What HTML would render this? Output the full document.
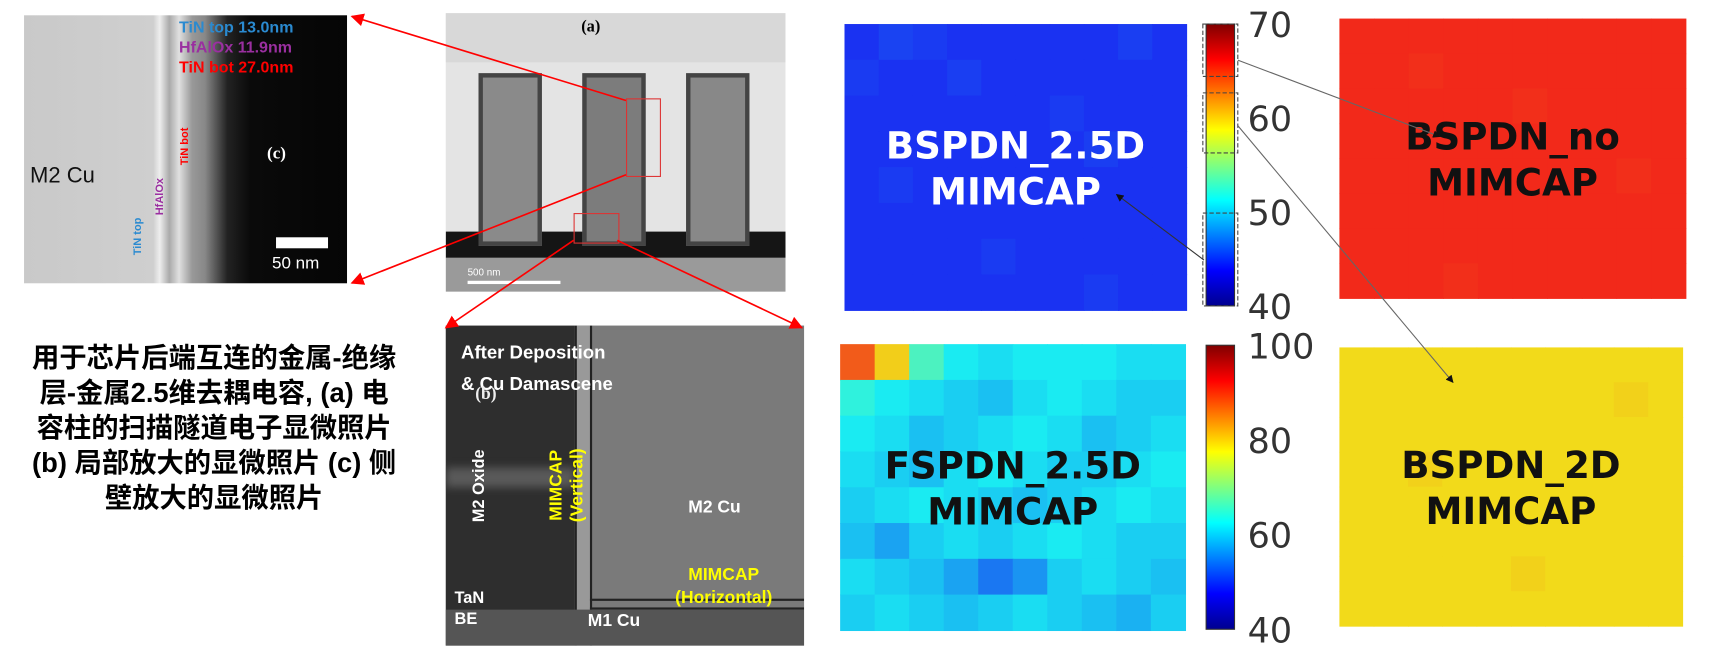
<!DOCTYPE html>
<html><head><meta charset="utf-8"><style>
body{margin:0;width:1713px;height:666px;background:#fff;position:relative;overflow:hidden;font-family:"Liberation Sans","Noto Sans CJK SC",sans-serif}
.abs{position:absolute}
#stage{position:absolute;left:0;top:0;width:1568px;height:610px;transform:scale(1.0925);transform-origin:0 0}
</style></head><body>
<div id="stage">
<!-- panel c -->
<div class="abs" style="left:22px;top:14px;width:323px;height:268px;transform:scale(0.9153);transform-origin:0 0;background:linear-gradient(90deg,#c9c9c9 0%,#cfcfcf 40%,#eee 42%,#aaa 45%,#e0e0e0 48%,#999 52%,#888 56%,#222 63%,#0a0a0a 70%,#050505 100%);overflow:hidden">
<div class="abs" style="left:6px;top:147px;font-size:22px;color:#111">M2 Cu</div>
<div class="abs" style="left:155px;top:3px;font-size:16px;font-weight:bold;line-height:20px"><span style="color:#2a8ad0">TiN top 13.0nm</span><br><span style="color:#9a2fa0">HfAlOx 11.9nm</span><br><span style="color:#f00">TiN bot 27.0nm</span></div>
<div class="abs" style="left:243px;top:128px;color:#fff;font-family:'Liberation Serif',serif;font-weight:bold;font-size:17px">(c)</div>
<div class="abs" style="left:252px;top:222px;width:52px;height:11px;background:#fff"></div>
<div class="abs" style="left:248px;top:238px;color:#fff;font-size:17px">50 nm</div>
<div class="abs" style="left:108px;top:240px;transform:rotate(-90deg);transform-origin:0 0;color:#2a8ad0;font-size:11px;font-weight:bold">TiN top</div>
<div class="abs" style="left:130px;top:200px;transform:rotate(-90deg);transform-origin:0 0;color:#9a2fa0;font-size:11px;font-weight:bold">HfAlOx</div>
<div class="abs" style="left:155px;top:150px;transform:rotate(-90deg);transform-origin:0 0;color:#f00;font-size:11px;font-weight:bold">TiN bot</div>
</div>
<!-- panel a -->
<div class="abs" style="left:408px;top:12px;width:311px;height:255px;background:#e4e4e4;overflow:hidden">
<div class="abs" style="left:0;top:0;width:311px;height:45px;background:#d8d8d8"></div>
<div class="abs" style="left:0;top:200px;width:311px;height:24px;background:#151515"></div>
<div class="abs" style="left:0;top:224px;width:311px;height:31px;background:#9a9a9a"></div>
<div class="abs" style="left:30px;top:55px;width:50px;height:150px;background:#8a8a8a;border:4px solid #444"></div>
<div class="abs" style="left:125px;top:55px;width:50px;height:150px;background:#7c7c7c;border:4px solid #444"></div>
<div class="abs" style="left:220px;top:55px;width:50px;height:150px;background:#888;border:4px solid #444"></div>
<div class="abs" style="left:124px;top:5px;font-family:'Liberation Serif',serif;font-weight:bold;font-size:15px">(a)</div>
<div class="abs" style="left:20px;top:232px;color:#fff;font-size:9px">500 nm</div>
<div class="abs" style="left:20px;top:245px;width:85px;height:3px;background:#fff"></div>
<div class="abs" style="left:165px;top:78px;width:30px;height:70px;border:1px solid #d33"></div>
<div class="abs" style="left:117px;top:183px;width:40px;height:26px;border:1px solid #d33"></div>
</div>
<!-- panel b -->
<div class="abs" style="left:408px;top:298px;width:328px;height:293px;background:#7a7a7a;overflow:hidden">
<div class="abs" style="left:0;top:0;width:118px;height:293px;background:#2e2e2e"></div>
<div class="abs" style="left:0;top:130px;width:118px;height:18px;background:#5a5a5a;filter:blur(4px)"></div>
<div class="abs" style="left:118px;top:0;width:12px;height:293px;background:#999;border-left:2px solid #222;border-right:2px solid #222"></div>
<div class="abs" style="left:132px;top:250px;width:196px;height:6px;border-top:2px solid #222;border-bottom:2px solid #222"></div>
<div class="abs" style="left:0;top:260px;width:328px;height:33px;background:#555"></div>
<div class="abs" style="left:14px;top:10px;color:#fff;font-weight:bold;font-size:17px;line-height:29px">After Deposition<br>&amp; Cu Damascene</div>
<div class="abs" style="left:27px;top:54px;color:#eee;font-family:'Liberation Serif',serif;font-weight:bold;font-size:16px">(b)</div>
<div class="abs" style="left:22px;top:180px;transform:rotate(-90deg);transform-origin:0 0;color:#fff;font-weight:bold;font-size:15px">M2 Oxide</div>
<div class="abs" style="left:92px;top:180px;transform:rotate(-90deg);transform-origin:0 0;color:#ff0;font-weight:bold;font-size:16px;line-height:19px;text-align:center">MIMCAP<br>(Vertical)</div>
<div class="abs" style="left:222px;top:158px;color:#fff;font-weight:bold;font-size:16px">M2 Cu</div>
<div class="abs" style="left:210px;top:218px;color:#ff0;font-weight:bold;font-size:16px;line-height:21px;text-align:center">MIMCAP<br>(Horizontal)</div>
<div class="abs" style="left:8px;top:240px;color:#fff;font-weight:bold;font-size:15px;line-height:19px">TaN<br>BE</div>
<div class="abs" style="left:130px;top:262px;color:#fff;font-weight:bold;font-size:16px">M1 Cu</div>
</div>
<!-- caption -->
<div class="abs" style="left:0px;top:312px;width:392px;font-size:25px;font-weight:bold;line-height:32px;text-align:center;color:#000;white-space:nowrap">用于芯片后端互连的金属-绝缘<br>层-金属2.5维去耦电容, (a) 电<br>容柱的扫描隧道电子显微照片<br>(b) 局部放大的显微照片 (c) 侧<br>壁放大的显微照片</div>

<svg class="abs" style="left:0;top:0" width="1568" height="610" id="chart">
<defs>
<linearGradient id="jet" x1="0" y1="1" x2="0" y2="0">
<stop offset="0" stop-color="#00008f"/><stop offset="0.125" stop-color="#0000ff"/><stop offset="0.375" stop-color="#00ffff"/><stop offset="0.625" stop-color="#ffff00"/><stop offset="0.875" stop-color="#ff0000"/><stop offset="1" stop-color="#800000"/>
</linearGradient>
<marker id="ar" viewBox="0 0 10 10" refX="9" refY="5" markerWidth="8" markerHeight="8" orient="auto"><path d="M0,0L10,5L0,10z" fill="#f00"/></marker>
<marker id="ak" viewBox="0 0 10 10" refX="9" refY="5" markerWidth="7" markerHeight="7" orient="auto"><path d="M0,0L10,5L0,10z" fill="#111"/></marker>
</defs>
<g id="maps"></g>
<g fill="none" stroke="#f00" stroke-width="1.5">
<line x1="573" y1="92" x2="322" y2="15" marker-end="url(#ar)"/>
<line x1="573" y1="160" x2="322" y2="259" marker-end="url(#ar)"/>
<line x1="525" y1="220" x2="408" y2="300" marker-end="url(#ar)"/>
<line x1="565" y1="220" x2="734" y2="300" marker-end="url(#ar)"/>
</g>
</svg>
</div>
<script>
function jet(t){t=Math.max(0,Math.min(1,t));
 const stops=[[0,[0,0,143]],[0.125,[0,0,255]],[0.375,[0,255,255]],[0.625,[255,255,0]],[0.875,[255,0,0]],[1,[128,0,0]]];
 let i=0;while(i<stops.length-2&&t>stops[i+1][0])i++;
 const a=stops[i],b=stops[i+1],f=(t-a[0])/(b[0]-a[0]);
 const c=a[1].map((v,k)=>v+(b[1][k]-v)*f);
 const m=c.map(v=>Math.round(v*0.85+255*0.1));
 return `rgb(${m[0]},${m[1]},${m[2]})`;}
const topTicks=[70,60,50,40];
const bottomTicks=[100,80,60,40];
const topRange=[40,70];
const bottomRange=[40,100];
const bspdn25d=[
[44.6,45.2,44.9,44.6,44.6,44.6,44.6,44.6,45.0,44.6],
[44.9,44.6,44.6,45.0,44.6,44.6,44.6,44.6,44.6,44.6],
[44.6,44.6,44.6,44.6,44.6,44.6,44.9,44.6,44.6,44.6],
[44.6,44.6,44.6,44.6,44.6,44.6,44.6,45.0,44.6,44.6],
[44.6,44.9,44.6,44.6,44.6,44.6,44.6,44.6,44.6,44.6],
[44.6,44.6,44.6,44.6,44.6,44.6,44.6,44.6,44.6,44.6],
[44.6,44.6,44.6,44.6,44.9,44.6,44.6,44.6,44.6,44.6],
[44.6,44.6,44.6,44.6,44.6,44.6,44.6,44.9,44.6,44.6]];
const bspdnNo=[
[65.7,65.7,65.7,65.7,65.7,65.7,65.7,65.7,65.7,65.7],
[65.7,65.7,65.5,65.7,65.7,65.7,65.7,65.7,65.7,65.7],
[65.7,65.7,65.7,65.7,65.7,65.5,65.7,65.7,65.7,65.7],
[65.7,65.7,65.7,65.7,65.7,65.7,65.7,65.7,65.7,65.7],
[65.7,65.7,65.7,65.7,65.7,65.7,65.7,65.7,65.5,65.7],
[65.7,65.7,65.7,65.7,65.7,65.7,65.7,65.7,65.7,65.7],
[65.7,65.7,65.7,65.7,65.7,65.7,65.7,65.7,65.7,65.7],
[65.7,65.7,65.7,65.5,65.7,65.7,65.7,65.7,65.7,65.7]];
const fspdn25d=[
[88,80,66,62,61,62,62,62,61,61],
[64,62,61,60,59,61,62,61,60,60],
[62,61,59,60,61,62,61,59,60,61],
[61,60,59,61,62,61,60,60,61,62],
[60,61,62,61,60,59,60,61,62,61],
[59,57,60,61,60,61,62,61,60,60],
[61,60,59,57,54,56,60,61,60,59],
[60,61,60,59,60,61,60,59,58,60]];
const bspdn2d=[
[59.6,59.6,59.6,59.6,59.6,59.6,59.6,59.6,59.6,59.6],
[59.6,59.6,59.6,59.6,59.6,59.6,59.6,59.6,59.9,59.6],
[59.6,59.6,59.6,59.6,59.6,59.6,59.6,59.6,59.6,59.6],
[59.6,59.6,59.9,59.6,59.6,59.6,59.6,59.6,59.6,59.6],
[59.6,59.6,59.6,59.6,59.6,59.6,59.6,59.6,59.6,59.6],
[59.6,59.6,59.6,59.6,59.6,59.6,59.6,59.6,59.6,59.6],
[59.6,59.6,59.6,59.6,59.6,59.9,59.6,59.6,59.6,59.6],
[59.6,59.6,59.6,59.6,59.6,59.6,59.6,59.6,59.6,59.6]];
const labels=[["BSPDN_2.5D","MIMCAP"],["BSPDN_no","MIMCAP"],["FSPDN_2.5D","MIMCAP"],["BSPDN_2D","MIMCAP"]];
const NS="http://www.w3.org/2000/svg";
const g=document.getElementById('maps');
function mk(tag,attrs,parent){const e=document.createElementNS(NS,tag);for(const k in attrs)e.setAttribute(k,attrs[k]);(parent||g).appendChild(e);return e;}
function drawMap(grid,x,y,w,h,range,name,lab,color){
 const rows=grid.length,cols=grid[0].length,cw=w/cols,ch=h/rows;
 const grp=mk('g',{});
 
 
 grid.forEach((row,i)=>row.forEach((v,j)=>{
  const r=mk('rect',{x:x+j*cw,y:y+i*ch,width:cw+0.6,height:ch+0.6,fill:jet((v-range[0])/(range[1]-range[0]))},grp);
  
  
 }));
 lab.forEach((t,k)=>{const tx=mk('text',{x:x+w/2,y:y+h/2-8+k*42,'text-anchor':'middle','font-size':34,'font-weight':'bold',fill:color,'font-family':'DejaVu Sans, Liberation Sans, sans-serif'},grp);tx.textContent=t;
  
  });
}
drawMap(bspdn25d,773,22,313,262,topRange,'heatmap-bspdn-2-5d',labels[0],'#fff');
drawMap(bspdnNo,1226,17,317,256,topRange,'heatmap-bspdn-no',labels[1],'#111');
drawMap(fspdn25d,769,315,316,262,bottomRange,'heatmap-fspdn-2-5d',labels[2],'#111');
drawMap(bspdn2d,1226,318,314,255,topRange,'heatmap-bspdn-2d',labels[3],'#111');
function drawBar(x,y,w,h,ticks,range,name){
 const r=mk('rect',{x,y,width:w,height:h,fill:'url(#jet)',stroke:'#333','stroke-width':1});
 
 
 ticks.forEach(t=>{const ty=y+h-(t-range[0])/(range[1]-range[0])*h;
  const tx=mk('text',{x:x+w+12,y:ty+12,'font-size':32,fill:'#333','font-family':'DejaVu Sans, sans-serif'});tx.textContent=t;
  
  });
}
drawBar(1104,22,26,258,topTicks,topRange,'colorbar-top');
drawBar(1104,316,26,260,bottomTicks,bottomRange,'colorbar-bottom');
[[22,70],[85,140],[195,280]].forEach(b=>mk('rect',{x:1101,y:b[0],width:32,height:b[1]-b[0],fill:'none',stroke:'#444','stroke-dasharray':'4 2'}));
mk('line',{x1:1133,y1:55,x2:1318,y2:125,stroke:'#666','marker-end':'url(#ak)'});
mk('line',{x1:1133,y1:115,x2:1330,y2:350,stroke:'#666','marker-end':'url(#ak)'});
mk('line',{x1:1102,y1:238,x2:1022,y2:178,stroke:'#333','marker-end':'url(#ak)'});
</script>
</body></html>
